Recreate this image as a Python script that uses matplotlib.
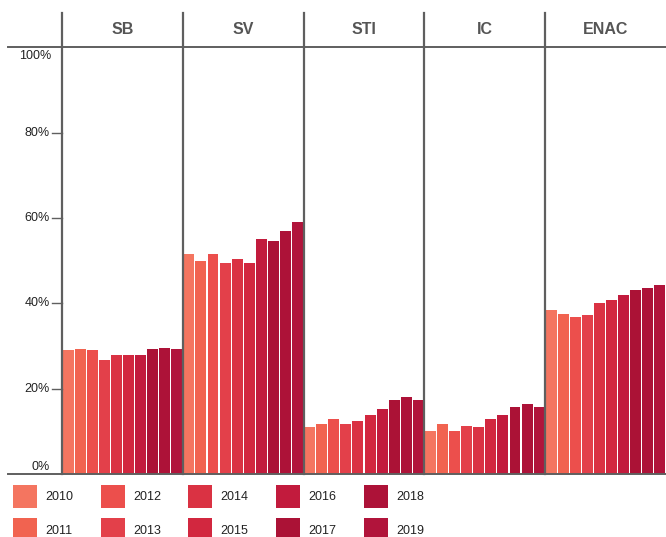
import numpy as np
import matplotlib
matplotlib.use("Agg")
import matplotlib.pyplot as plt
from matplotlib.patches import Rectangle

plt.rcParams["font.family"] = ["Liberation Sans", "DejaVu Sans"]

schools = ["SB", "SV", "STI", "IC", "ENAC"]
years = ["2010", "2011", "2012", "2013", "2014",
         "2015", "2016", "2017", "2018", "2019"]
colors = ["#F47560", "#F16350", "#EC4F4C", "#E3404A", "#DA3243",
          "#D2273F", "#C21B3D", "#AB1236", "#AD1238", "#B1143B"]

# share (%) per school, one value per year 2010..2019
sb = [29.0, 29.2, 29.0, 26.8, 27.8, 28.0, 28.0, 29.2, 29.6, 29.2]
sv = [51.5, 49.9, 51.5, 49.4, 50.4, 49.4, 55.1, 54.6, 56.9, 59.1]
sti = [11.1, 11.8, 12.9, 11.8, 12.5, 13.9, 15.3, 17.4, 18.1, 17.4]
ic = [10.1, 11.8, 10.1, 11.3, 11.1, 12.9, 13.9, 15.8, 16.5, 15.8]
enac = [38.4, 37.6, 36.7, 37.2, 40.0, 40.7, 41.9, 43.1, 43.5, 44.2]
values = [sb, sv, sti, ic, enac]

W, H = 666, 537
fig = plt.figure(figsize=(W / 100, H / 100), dpi=100)

# main plotting area in pixels
x0, x1, y0, y1 = 62, 666, 474, 47.3
ax = fig.add_axes([x0 / W, 1 - y0 / H, (x1 - x0) / W, (y0 - y1) / H])
n = len(years)
for p, vals in enumerate(values):
    xs = p * n + np.arange(n) + 0.5
    ax.bar(xs, vals, width=0.91, color=colors, edgecolor="none", zorder=2)
ax.set_xlim(0, len(schools) * n)
ax.set_ylim(0, 100)
ax.axis("off")

line_col = "#5f5f5f"
span = y0 - y1
top_ext = (y0 - 13) / span
head_y = 100 + (y1 - 30) / span * 100
for p in range(len(schools)):
    ax.axvline(p * n, ymin=0, ymax=top_ext, color=line_col, lw=1.6,
               clip_on=False, zorder=3)
    ax.text(p * n + n / 2, head_y, schools[p], ha="center", va="center",
            fontsize=11.5, fontweight="bold", color="#555555", clip_on=False)

left_ext = (8 - x0) / (x1 - x0)
for yv in (0, 100):
    ax.plot([left_ext, 1], [yv / 100, yv / 100], transform=ax.transAxes,
            color=line_col, lw=1.4, clip_on=False, zorder=3)

# y tick labels
tick_dx = 10 / (x1 - x0)
lab_x = (50 - x0) / (x1 - x0)
for yv in (20, 40, 60, 80):
    ax.plot([-tick_dx, 0], [yv / 100, yv / 100], transform=ax.transAxes,
            color=line_col, lw=1.0, clip_on=False)
    ax.text(lab_x, yv / 100, f"{yv}%", transform=ax.transAxes,
            ha="right", va="center", fontsize=9, color="#222222")
ax.text(lab_x + 1 / (x1 - x0), 1 - 8.5 / span, "100%",
        transform=ax.transAxes, ha="right", va="center", fontsize=9,
        color="#222222")
ax.text(lab_x, 7 / span, "0%", transform=ax.transAxes,
        ha="right", va="center", fontsize=9, color="#222222")

# legend in pixel coordinates
lg = fig.add_axes([0, 0, 1, 1])
lg.set_xlim(0, W)
lg.set_ylim(H, 0)
lg.axis("off")
col_x = [13, 101, 188, 276, 364]
row_y = [485, 518]
for i, (yr, c) in enumerate(zip(years, colors)):
    cx = col_x[i // 2]
    ry = row_y[i % 2]
    lg.add_patch(Rectangle((cx, ry), 24, 23, color=c, lw=0))
    lg.text(cx + 32, ry + 12.5, yr, ha="left", va="center",
            fontsize=9, color="#222222")

fig.savefig("out.png", dpi=100)
